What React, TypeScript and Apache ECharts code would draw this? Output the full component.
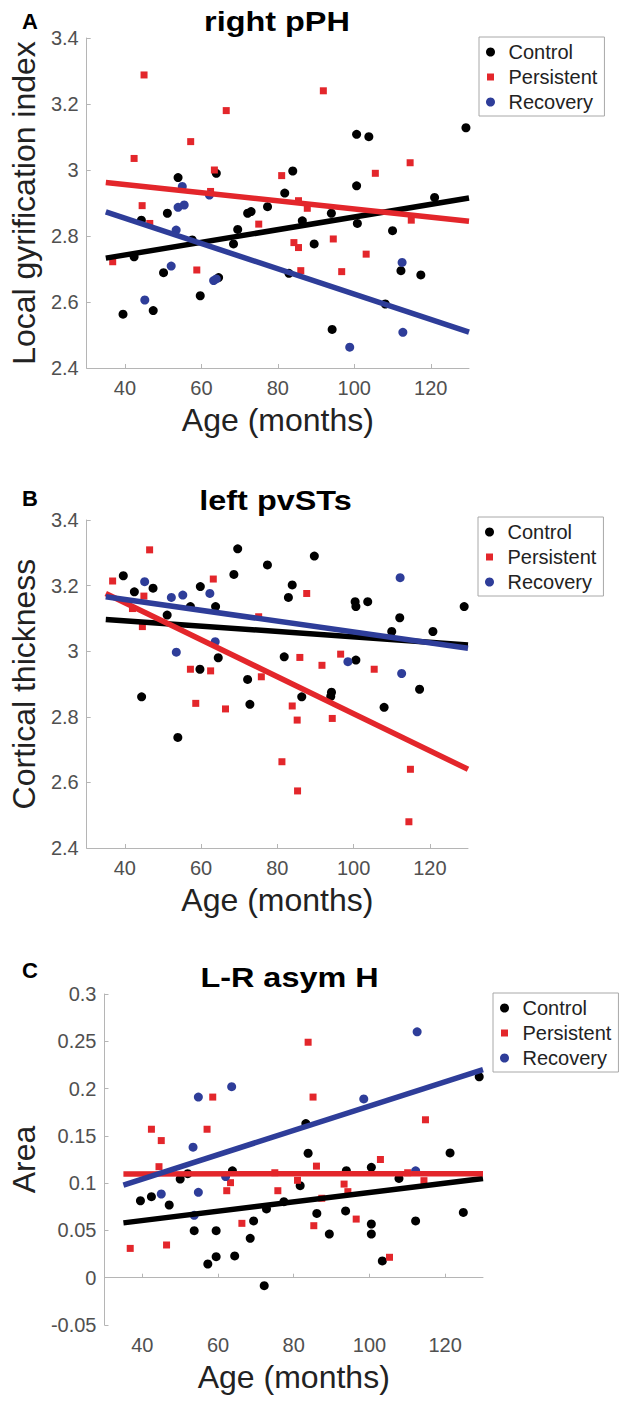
import React, { useEffect, useRef } from "react";
import * as echarts from "echarts";

const FONT = '"Liberation Sans", Arial, Helvetica, sans-serif';

const groups = ["Control", "Persistent", "Recovery"];
const xTicks = [40, 60, 80, 100, 120];
const ticksA = [2.4, 2.6, 2.8, 3, 3.2, 3.4];
const ticksB = [2.4, 2.6, 2.8, 3, 3.2, 3.4];
const ticksC = [-0.05, 0, 0.05, 0.1, 0.15, 0.2, 0.25, 0.3];

// Panel A: right pPH (Local gyrification index)
const aControl = [
  [39.5, 2.563], [42.4, 2.737], [44.3, 2.848], [47.4, 2.574], [50.1, 2.689], [51.1, 2.869],
  [53.9, 2.977], [57.6, 2.788], [59.7, 2.619], [63.9, 2.99], [64.5, 2.674], [68.4, 2.776],
  [69.5, 2.82], [72.1, 2.869], [73.0, 2.874], [77.3, 2.889], [81.8, 2.93], [82.9, 2.687],
  [83.9, 2.997], [86.4, 2.846], [89.5, 2.776], [94.0, 2.869], [94.2, 2.517], [100.6, 3.108],
  [100.6, 2.952], [100.8, 2.838], [103.8, 3.101], [108.1, 2.594], [110.0, 2.816], [112.2, 2.695],
  [117.4, 2.682], [121.0, 2.917], [129.2, 3.128],
];
const aPersistent = [
  [36.8, 2.722], [42.4, 3.035], [44.5, 2.892], [45.0, 3.288], [46.5, 2.838], [57.2, 3.086],
  [58.8, 2.697], [62.4, 2.935], [63.4, 3.0], [66.5, 3.18], [75.0, 2.836], [81.0, 2.983],
  [84.2, 2.78], [85.4, 2.765], [85.4, 2.907], [86.0, 2.695], [87.7, 2.884], [91.9, 3.24],
  [94.5, 2.791], [96.7, 2.692], [103.1, 2.745], [105.5, 2.99], [114.6, 3.022], [114.9, 2.848],
];
const aRecovery = [
  [45.2, 2.606], [52.1, 2.709], [53.4, 2.818], [53.9, 2.887], [55.0, 2.95], [55.5, 2.894],
  [62.1, 2.924], [63.2, 2.665], [63.9, 2.67], [98.8, 2.463], [112.5, 2.72], [112.7, 2.508],
];
const aFitControl = [[35, 2.733], [130, 2.915]];
const aFitPersistent = [[35, 2.962], [130, 2.845]];
const aFitRecovery = [[35, 2.873], [130, 2.509]];

// Panel B: left pvSTs (Cortical thickness)
const bControl = [
  [39.6, 3.23], [42.5, 3.181], [44.4, 2.861], [47.4, 3.192], [51.1, 3.11], [53.9, 2.737],
  [57.2, 3.136], [59.7, 2.945], [59.8, 3.197], [63.8, 3.136], [64.5, 2.98], [68.6, 3.234],
  [69.6, 3.312], [72.2, 2.914], [72.8, 2.838], [77.4, 3.263], [81.8, 2.983], [82.9, 3.164],
  [83.9, 3.202], [86.4, 2.861], [89.7, 3.29], [94.2, 2.875], [94.0, 2.862], [100.4, 3.151],
  [100.6, 3.136], [100.6, 2.973], [103.7, 3.151], [108.0, 2.829], [110.0, 3.06], [112.1, 3.102],
  [117.3, 2.884], [120.8, 3.06], [129.0, 3.136],
];
const bPersistent = [
  [36.8, 3.214], [42.0, 3.13], [44.6, 3.075], [45.0, 3.168], [46.5, 3.309], [57.2, 2.945],
  [58.6, 2.841], [62.5, 2.94], [63.2, 3.22], [66.4, 2.824], [75.1, 3.105], [75.8, 2.922],
  [81.2, 2.663], [83.9, 2.833], [85.2, 2.79], [85.3, 2.574], [85.9, 2.981], [87.7, 3.176],
  [91.7, 2.957], [94.4, 2.795], [96.6, 2.991], [105.4, 2.945], [114.5, 2.48], [114.9, 2.64],
];
const bRecovery = [
  [45.2, 3.212], [52.2, 3.164], [53.5, 2.997], [55.2, 3.171], [62.3, 3.176], [63.7, 3.029],
  [98.5, 2.968], [112.2, 3.224], [112.6, 2.932],
];
const bFitControl = [[35, 3.097], [130, 3.019]];
const bFitPersistent = [[35, 3.176], [130, 2.64]];
const bFitRecovery = [[35, 3.166], [130, 3.009]];

// Panel C: L-R asym H (Area)
const cControl = [
  [39.5, 0.0814], [42.4, 0.0857], [47.1, 0.0769], [50.0, 0.1044], [52.0, 0.11], [53.7, 0.0497],
  [57.3, 0.0145], [59.5, 0.0222], [59.5, 0.0497], [63.8, 0.113], [64.4, 0.023], [68.5, 0.0417],
  [69.4, 0.06], [72.2, -0.0084], [72.8, 0.0727], [77.4, 0.0804], [81.7, 0.0973], [83.2, 0.163],
  [83.8, 0.1316], [86.1, 0.068], [89.4, 0.0462], [93.7, 0.0706], [93.9, 0.1132], [100.5, 0.1167],
  [100.5, 0.0568], [100.5, 0.0462], [103.4, 0.0177], [107.8, 0.105], [112.2, 0.06], [121.3, 0.132],
  [124.8, 0.069], [129.0, 0.2125],
];
const cPersistent = [
  [36.8, 0.031], [42.4, 0.157], [44.4, 0.1174], [45.0, 0.145], [46.4, 0.0346], [57.1, 0.157],
  [58.6, 0.191], [62.3, 0.092], [63.3, 0.1005], [66.3, 0.0575], [75.0, 0.111], [75.8, 0.092],
  [81.0, 0.103], [83.8, 0.249], [85.1, 0.191], [85.3, 0.055], [86.0, 0.118], [87.4, 0.084],
  [93.3, 0.099], [94.3, 0.091], [96.5, 0.062], [102.9, 0.125], [105.3, 0.0216], [110.1, 0.111],
  [114.4, 0.1026], [114.8, 0.167],
];
const cRecovery = [
  [45.0, 0.0885], [53.4, 0.138], [53.7, 0.066], [54.8, 0.191], [54.8, 0.0903], [62.0, 0.107],
  [63.6, 0.202], [98.5, 0.189], [112.2, 0.113], [112.6, 0.26],
];
const cFitControl = [[35, 0.058], [130, 0.105]];
const cFitPersistent = [[35, 0.1097], [130, 0.110]];
const cFitRecovery = [[35, 0.098], [130, 0.22]];

const COLORS = ["#000000", "#e3262b", "#2e3d99"];
const SQUARE_ICON = "path://M-1 0L-1 0M0 1H7V8H0ZM8 9L8 9";

const panels = [
  {
    letter: "A", title: "right pPH", yName: "Local gyrification index",
    grid: { left: 85, top: 38, width: 384, height: 330 },
    yMin: 2.4, yMax: 3.4, yTicks: ticksA, yNameGap: 40,
    titleY: 21, letterY: 21, legend: { left: 479, top: 37 },
    points: [aControl, aPersistent, aRecovery],
    fits: [aFitControl, aFitPersistent, aFitRecovery],
  },
  {
    letter: "B", title: "left pvSTs", yName: "Cortical thickness",
    grid: { left: 83, top: 520, width: 385, height: 328 },
    yMin: 2.4, yMax: 3.4, yTicks: ticksB, yNameGap: 40,
    titleY: 500, letterY: 498, legend: { left: 478, top: 517 },
    points: [bControl, bPersistent, bRecovery],
    fits: [bFitControl, bFitPersistent, bFitRecovery],
  },
  {
    letter: "C", title: "L-R asym H", yName: "Area",
    grid: { left: 96, top: 994, width: 387, height: 331 },
    yMin: -0.05, yMax: 0.3, yTicks: ticksC, yNameGap: 60,
    titleY: 977, letterY: 970, legend: { left: 493, top: 993 },
    points: [cControl, cPersistent, cRecovery],
    fits: [cFitControl, cFitPersistent, cFitRecovery],
  },
];

function buildOption() {
  const axisColor = "#b5b5b5";
  const labelColor = "#505050";
  const grid: any[] = [];
  const xAxis: any[] = [];
  const yAxis: any[] = [];
  const series: any[] = [];
  const legend: any[] = [];
  const graphic: any[] = [];

  panels.forEach((p, i) => {
    grid.push({ ...p.grid, containLabel: false });
    xAxis.push({
      type: "value", gridIndex: i, min: 30, max: 130,
      name: "Age (months)", nameLocation: "middle", nameGap: 36,
      nameTextStyle: { fontSize: 32, color: "#222", fontFamily: FONT },
      axisLine: { show: true, lineStyle: { color: axisColor, width: 1 } },
      axisTick: { show: true, inside: true, length: 4, customValues: xTicks, lineStyle: { color: axisColor } },
      axisLabel: { customValues: xTicks, fontSize: 20, color: labelColor, margin: 10, fontFamily: FONT },
      splitLine: { show: false },
    });
    yAxis.push({
      type: "value", gridIndex: i, min: p.yMin, max: p.yMax,
      name: p.yName, nameLocation: "middle", nameGap: p.yNameGap,
      nameTextStyle: { fontSize: 32, color: "#222", fontFamily: FONT },
      axisLine: { show: true, lineStyle: { color: axisColor, width: 1 } },
      axisTick: { show: true, inside: true, length: 4, customValues: p.yTicks, lineStyle: { color: axisColor } },
      axisLabel: {
        customValues: p.yTicks, fontSize: 20, color: labelColor, margin: 8, fontFamily: FONT,
        formatter: (v: number) => String(+Number(v).toFixed(2)),
      },
      splitLine: { show: false },
    });
    groups.forEach((g, k) => {
      series.push({
        type: "scatter", name: g, xAxisIndex: i, yAxisIndex: i,
        symbol: k === 1 ? "rect" : "circle", symbolSize: k === 1 ? 7 : 9,
        itemStyle: { color: COLORS[k], opacity: 1 },
        data: p.points[k], z: 2,
      });
    });
    groups.forEach((g, k) => {
      series.push({
        type: "line", name: g + " fit " + p.letter, xAxisIndex: i, yAxisIndex: i,
        showSymbol: false, symbol: "none", silent: true,
        lineStyle: { color: COLORS[k], width: 5.5 },
        data: p.fits[k], z: 3,
      });
    });
    legend.push({
      show: true, orient: "vertical", left: p.legend.left, top: p.legend.top,
      data: [
        { name: "Control", icon: "circle" },
        { name: "Persistent", icon: SQUARE_ICON },
        { name: "Recovery", icon: "circle" },
      ],
      symbolKeepAspect: true,
      padding: [5, 7, 4, 7], itemGap: 5, itemWidth: 26, itemHeight: 9,
      borderColor: "#a8a8a8", borderWidth: 1, backgroundColor: "#fff",
      textStyle: { fontSize: 20, color: "#222", fontFamily: FONT },
      selectedMode: false,
    });
    const cx = p.grid.left + p.grid.width / 2;
    graphic.push({
      type: "text", x: cx, y: p.titleY, scaleX: 1.2,
      style: { text: p.title, fontSize: 27, fontWeight: "bold", fontFamily: FONT, fill: "#000", align: "center", verticalAlign: "middle" },
    });
    graphic.push({
      type: "text", x: 30, y: p.letterY,
      style: { text: p.letter, fontSize: 22, fontWeight: "bold", fontFamily: FONT, fill: "#000", align: "center", verticalAlign: "middle" },
    });
  });

  return {
    animation: false,
    backgroundColor: "#ffffff",
    textStyle: { fontFamily: FONT },
    grid, xAxis, yAxis, series, legend, graphic,
  };
}

export default function App() {
  const ref = useRef<HTMLDivElement>(null);
  useEffect(() => {
    if (!ref.current) return;
    const chart = echarts.init(ref.current, null, { renderer: "svg" });
    chart.setOption(buildOption());
    return () => chart.dispose();
  }, []);
  return (
    <div
      ref={ref}
      style={{ position: "absolute", left: 0, top: 0, width: 633, height: 1401, background: "#fff" }}
    />
  );
}
